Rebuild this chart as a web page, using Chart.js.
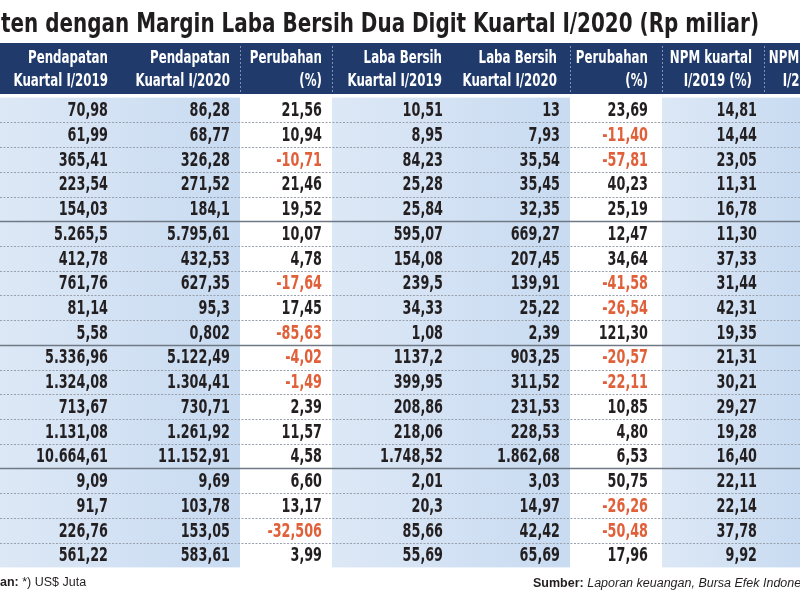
<!DOCTYPE html>
<html><head><meta charset="utf-8">
<script src="https://cdn.jsdelivr.net/npm/chart.js@4.4.1/dist/chart.umd.min.js"></script>
<style>html,body{margin:0;padding:0;background:#fff}#wrap{width:800px;height:600px;position:relative}</style>
</head><body><div id="wrap"><canvas id="c" width="800" height="600"></canvas></div>
<script>
// ---------- data ----------
const titleText = "Emiten dengan Margin Laba Bersih Dua Digit Kuartal I/2020 (Rp miliar)";
const columnHeaders = [
  ["Pendapatan", "Kuartal I/2019"],
  ["Pendapatan", "Kuartal I/2020"],
  ["Perubahan", "(%)"],
  ["Laba Bersih", "Kuartal I/2019"],
  ["Laba Bersih", "Kuartal I/2020"],
  ["Perubahan", "(%)"],
  ["NPM kuartal", "I/2019 (%)"],
  ["NPM kuartal", "I/2020 (%)"]
];
const pendapatan2019 = ["70,98","61,99","365,41","223,54","154,03","5.265,5","412,78","761,76","81,14","5,58","5.336,96","1.324,08","713,67","1.131,08","10.664,61","9,09","91,7","226,76","561,22"];
const pendapatan2020 = ["86,28","68,77","326,28","271,52","184,1","5.795,61","432,53","627,35","95,3","0,802","5.122,49","1.304,41","730,71","1.261,92","11.152,91","9,69","103,78","153,05","583,61"];
const perubahanPendapatan = ["21,56","10,94","-10,71","21,46","19,52","10,07","4,78","-17,64","17,45","-85,63","-4,02","-1,49","2,39","11,57","4,58","6,60","13,17","-32,506","3,99"];
const labaBersih2019 = ["10,51","8,95","84,23","25,28","25,84","595,07","154,08","239,5","34,33","1,08","1137,2","399,95","208,86","218,06","1.748,52","2,01","20,3","85,66","55,69"];
const labaBersih2020 = ["13","7,93","35,54","35,45","32,35","669,27","207,45","139,91","25,22","2,39","903,25","311,52","231,53","228,53","1.862,68","3,03","14,97","42,42","65,69"];
const perubahanLaba = ["23,69","-11,40","-57,81","40,23","25,19","12,47","34,64","-41,58","-26,54","121,30","-20,57","-22,11","10,85","4,80","6,53","50,75","-26,26","-50,48","17,96"];
const npm2019 = ["14,81","14,44","23,05","11,31","16,78","11,30","37,33","31,44","42,31","19,35","21,31","30,21","29,27","19,28","16,40","22,11","22,14","37,78","9,92"];
const noteLabel = "Keterangan:";
const noteText = " *) US$ Juta";
const sourceLabel = "Sumber:";
const sourceText = " Laporan keuangan, Bursa Efek Indonesia";

// ---------- layout & style ----------
const columns = [pendapatan2019, pendapatan2020, perubahanPendapatan, labaBersih2019, labaBersih2020, perubahanLaba, npm2019];
const colRight = [108, 230, 322, 443, 560, 648, 757, 856];
const headRight = [108, 230, 322, 442, 557, 648, 752, 851];
const whiteBands = [[240, 332], [570, 662]];
const blueBands = [[0, 240], [332, 570], [662, 800]];
const headerLines = [240, 332, 570, 662, 764];
const solidAfter = [5, 10, 15];
const COND = '"DejaVu Sans Condensed", "DejaVu Sans", sans-serif';
const SANS = '"Liberation Sans", Arial, sans-serif';
const NAVY = '#1f3a6b';
const TEXT = '#231f20';
const NEG = '#e0603a';

const nRows = pendapatan2019.length;

function squeezeText(ctx, text, x, y, sx) {
  ctx.save();
  ctx.translate(x, y);
  ctx.scale(sx, 1);
  ctx.fillText(text, 0, 0);
  ctx.restore();
}

const tablePlugin = {
  id: 'tablePlugin',
  beforeDatasetsDraw(chart) {
    const ctx = chart.ctx, xs = chart.scales.x, ys = chart.scales.y;
    const top = ys.getPixelForValue(-0.5), bot = ys.getPixelForValue(nRows - 0.5);
    ctx.save();
    // blue bands
    blueBands.forEach(([a, b]) => {
      const x0 = xs.getPixelForValue(a), x1 = xs.getPixelForValue(b);
      const g = ctx.createLinearGradient(x0, 0, x1, 0);
      g.addColorStop(0, '#dde8f6');
      g.addColorStop(1, '#c8dbf1');
      ctx.fillStyle = g;
      ctx.fillRect(x0, top, x1 - x0, bot - top);
    });
    whiteBands.forEach(([a, b]) => {
      const x0 = xs.getPixelForValue(a), x1 = xs.getPixelForValue(b);
      ctx.fillStyle = '#ffffff';
      ctx.fillRect(x0, top, x1 - x0, bot - top);
    });
    // row separators
    for (let k = 1; k < nRows; k++) {
      const y = Math.round(ys.getPixelForValue(k - 0.5)) + 0.5;
      ctx.beginPath();
      if (solidAfter.includes(k)) {
        ctx.setLineDash([]);
        ctx.strokeStyle = '#6f7885';
        ctx.lineWidth = 1.5;
      } else {
        ctx.setLineDash([2, 1.5]);
        ctx.strokeStyle = '#98a1ad';
        ctx.lineWidth = 1;
      }
      ctx.moveTo(xs.getPixelForValue(0), y);
      ctx.lineTo(xs.getPixelForValue(800), y);
      ctx.stroke();
    }
    ctx.setLineDash([]);
    // header
    const hTop = 43, hBot = 94;
    ctx.fillStyle = NAVY;
    ctx.fillRect(0, hTop, 800, hBot - hTop);
    ctx.strokeStyle = '#7f93b8';
    ctx.lineWidth = 1;
    ctx.setLineDash([2, 2]);
    headerLines.forEach(v => {
      const x = Math.round(xs.getPixelForValue(v)) + 0.5;
      ctx.beginPath(); ctx.moveTo(x, hTop + 3); ctx.lineTo(x, hBot); ctx.stroke();
    });
    ctx.setLineDash([]);
    ctx.fillStyle = '#ffffff';
    ctx.font = 'bold 17.5px ' + COND;
    ctx.textAlign = 'right';
    ctx.textBaseline = 'middle';
    const hsx = 80 / ctx.measureText('Pendapatan').width;
    columnHeaders.forEach((h, c) => {
      const x = xs.getPixelForValue(headRight[c]);
      squeezeText(ctx, h[0], x, 58, hsx);
      squeezeText(ctx, h[1], x, 81, hsx);
    });
    // title
    ctx.fillStyle = '#1f1d1e';
    ctx.textAlign = 'left';
    ctx.textBaseline = 'alphabetic';
    ctx.font = 'bold 26px ' + COND;
    const visible = titleText.slice(3);
    const tsx = 758 / ctx.measureText(visible).width;
    const off = ctx.measureText(titleText.slice(0, 3)).width * tsx;
    squeezeText(ctx, titleText, 1 - off, 32, tsx);
    // footer
    ctx.fillStyle = '#231f20';
    ctx.font = 'bold 12.5px ' + SANS;
    const offN = ctx.measureText(noteLabel.slice(0, 8)).width;
    ctx.fillText(noteLabel, -offN, 586);
    const wN = ctx.measureText(noteLabel).width;
    ctx.font = '12.5px ' + SANS;
    ctx.fillText(noteText, -offN + wN, 586);
    ctx.font = 'bold 12.5px ' + SANS;
    ctx.fillText(sourceLabel, 533, 587);
    const wS = ctx.measureText(sourceLabel).width;
    ctx.font = 'italic 12.5px ' + SANS;
    ctx.fillText(sourceText, 533 + wS, 587);
    ctx.restore();
  },
  afterDatasetsDraw(chart) {
    const ctx = chart.ctx;
    ctx.save();
    ctx.font = 'bold 20px ' + COND;
    ctx.textAlign = 'right';
    ctx.textBaseline = 'middle';
    const dsx = 63 / ctx.measureText('5.336,96').width;
    chart.data.datasets.forEach((ds, di) => {
      const meta = chart.getDatasetMeta(di);
      meta.data.forEach((el, i) => {
        const label = ds.labels[i];
        ctx.fillStyle = label.startsWith('-') ? NEG : TEXT;
        squeezeText(ctx, label, el.x, el.y + 1, dsx);
      });
    });
    ctx.restore();
  }
};

new Chart(document.getElementById('c'), {
  type: 'scatter',
  data: {
    datasets: columns.map((vals, c) => ({
      label: columnHeaders[c].join(' '),
      labels: vals,
      data: vals.map((v, i) => ({ x: colRight[c], y: i })),
      pointRadius: 0,
      pointHoverRadius: 0
    }))
  },
  options: {
    responsive: false,
    animation: false,
    events: [],
    layout: { padding: { top: 97.6, bottom: 32.6, left: 0, right: 0 } },
    plugins: { legend: { display: false }, tooltip: { enabled: false }, title: { display: false } },
    scales: {
      x: { type: 'linear', min: 0, max: 800, display: false },
      y: { type: 'linear', min: -0.5, max: nRows - 0.5, reverse: true, display: false }
    }
  },
  plugins: [tablePlugin]
});
</script>
</body></html>
